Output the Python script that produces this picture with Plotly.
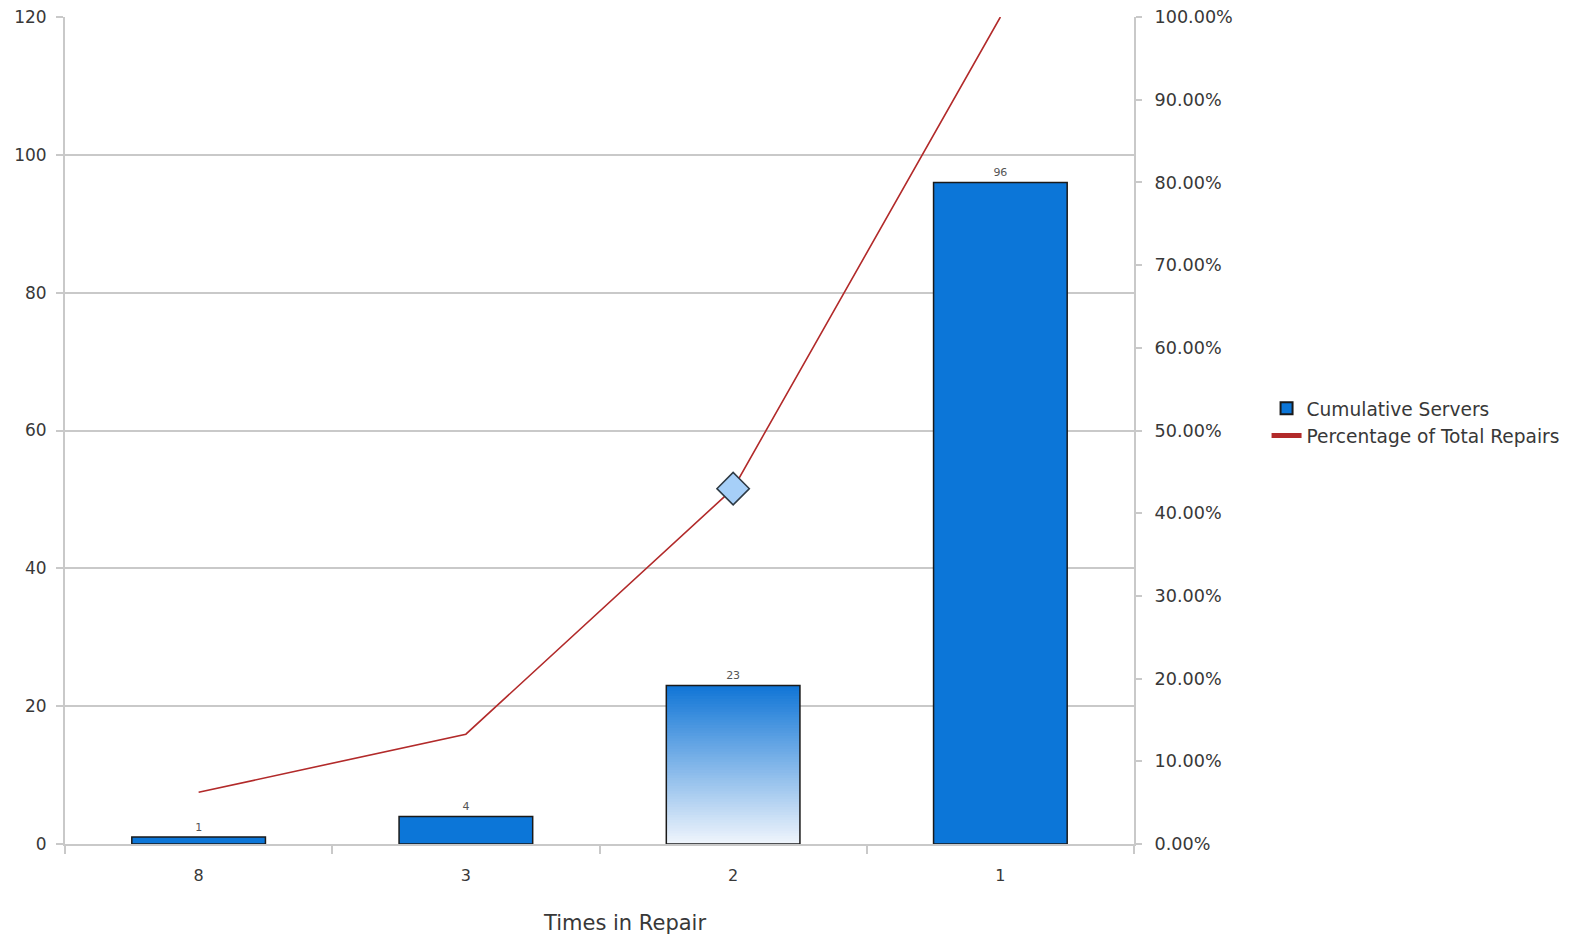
import plotly.graph_objects as go

# Repair counts and cumulative figures
times_in_repair = ["8", "3", "2", "1"]
cumulative_servers = [1, 4, 23, 96]
pct_total_repairs = [0.0625, 0.1328, 0.4297, 1.0]
highlight_index = 2  # category drawn with gradient fill and diamond marker

BAR_BLUE = "#0c76d8"
LINE_RED = "#b22a2a"
GRID = "#c9c9c9"
TEXT = "#383838"
FONT = "DejaVu Sans, Verdana, sans-serif"

fig = go.Figure()

# Gradient fill for the highlighted bar: overlapping layers, each starting
# a little higher and a little bluer than the one beneath it
n_slices = 60
top_rgb = (16, 117, 214)
bot_rgb = (240, 245, 252)
hv = cumulative_servers[highlight_index]
for i in range(n_slices):
    t = (i + 0.5) / n_slices
    r = round(bot_rgb[0] + (top_rgb[0] - bot_rgb[0]) * t)
    g = round(bot_rgb[1] + (top_rgb[1] - bot_rgb[1]) * t)
    b = round(bot_rgb[2] + (top_rgb[2] - bot_rgb[2]) * t)
    base = hv * i / n_slices
    fig.add_trace(go.Bar(
        x=[times_in_repair[highlight_index]],
        y=[hv - base],
        base=[base],
        width=0.5,
        marker=dict(color=f"rgb({r},{g},{b})", line=dict(width=0)),
        showlegend=False,
        hoverinfo="skip",
    ))

bar_colors = [BAR_BLUE if i != highlight_index else "rgba(0,0,0,0)"
              for i in range(len(cumulative_servers))]

fig.add_trace(go.Bar(
    x=times_in_repair,
    y=cumulative_servers,
    width=0.5,
    name="Cumulative Servers",
    marker=dict(color=bar_colors, line=dict(color="#1a1a1a", width=1.5)),
    text=[str(v) for v in cumulative_servers],
    textposition="outside",
    textfont=dict(size=11, color="#555555", family=FONT),
    cliponaxis=False,
))

fig.add_trace(go.Scatter(
    x=times_in_repair,
    y=pct_total_repairs,
    yaxis="y2",
    mode="lines",
    name="Percentage of Total Repairs",
    line=dict(color=LINE_RED, width=1.6),
))

fig.add_trace(go.Scatter(
    x=[times_in_repair[highlight_index]],
    y=[pct_total_repairs[highlight_index]],
    yaxis="y2",
    mode="markers",
    marker=dict(symbol="diamond", size=25, color="#a6cff8",
                line=dict(color="#2e3a44", width=1.5)),
    showlegend=False,
    hoverinfo="skip",
))

fig.update_layout(
    width=1581,
    height=937,
    paper_bgcolor="white",
    plot_bgcolor="white",
    barmode="overlay",
    margin=dict(l=65, r=447, t=17, b=93),
    font=dict(family=FONT, size=16, color=TEXT),
    xaxis=dict(
        type="category",
        categoryorder="array", categoryarray=times_in_repair,
        showline=True, linecolor=GRID, linewidth=2,
        ticks="outside", tickson="boundaries", ticklen=8, tickcolor=GRID, tickwidth=1.5,
        ticklabelstandoff=16,
        showgrid=False,
        tickfont=dict(size=16, color=TEXT),
        domain=[0, 1],
        automargin=False,
    ),
    yaxis=dict(
        range=[0, 120], dtick=20,
        showgrid=True, gridcolor=GRID, gridwidth=2,
        showline=True, linecolor=GRID, linewidth=2,
        ticks="outside", ticklen=7, tickcolor=GRID, tickwidth=2,
        ticklabelstandoff=6,
        tickfont=dict(size=17, color=TEXT),
        zeroline=False,
        automargin=False,
    ),
    yaxis2=dict(
        overlaying="y", side="right",
        range=[0, 1], dtick=0.1, tickformat=".2%",
        showgrid=False,
        showline=True, linecolor=GRID, linewidth=2,
        ticks="outside", ticklen=6, tickcolor=GRID, tickwidth=1.5,
        ticklabelstandoff=9,
        tickfont=dict(size=17.6, color=TEXT),
        zeroline=False,
        automargin=False,
    ),
    legend=dict(
        x=1.124, y=0.51, xanchor="left", yanchor="middle",
        font=dict(size=18.6, color=TEXT),
        itemsizing="constant",
        tracegroupgap=0,
        bgcolor="rgba(0,0,0,0)",
    ),
    annotations=[dict(
        text="Times in Repair",
        xref="paper", yref="paper",
        x=0.523, y=-0.095, xanchor="center", yanchor="middle",
        showarrow=False,
        font=dict(size=21, color=TEXT),
    )],
)

fig.write_html("out.html")
